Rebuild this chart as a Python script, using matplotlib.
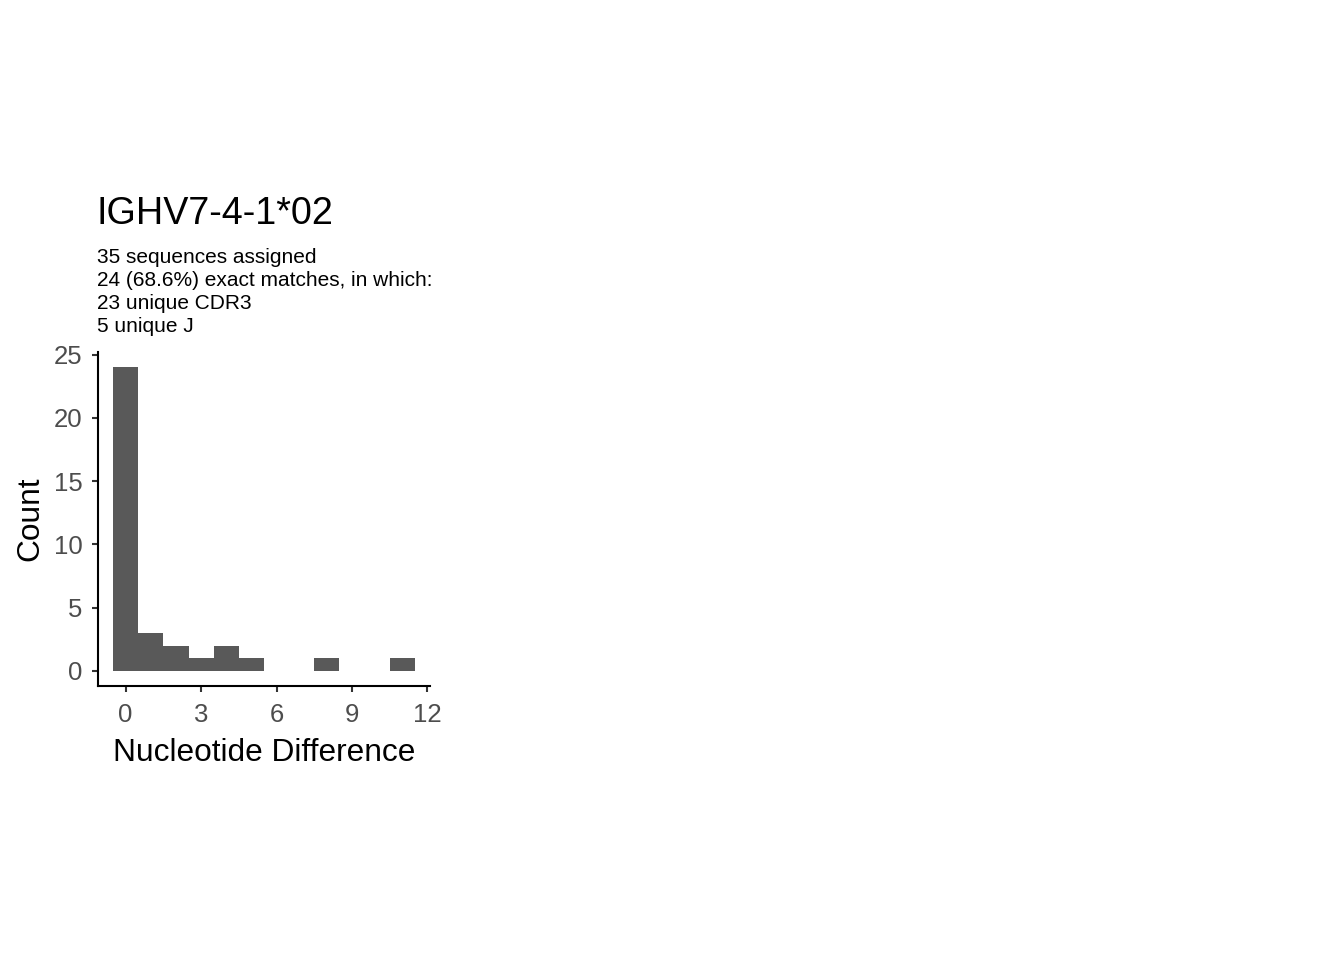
import matplotlib
matplotlib.use('Agg')
import matplotlib.pyplot as plt
import numpy as np

plt.rcParams['font.family'] = ['Liberation Sans', 'DejaVu Sans']

# histogram of nucleotide differences (one bin per integer)
diffs = [0, 1, 2, 3, 4, 5, 6, 7, 8, 9, 10, 11]
counts = [24, 3, 2, 1, 2, 1, 0, 0, 1, 0, 0, 1]

title = 'IGHV7-4-1*02'
subtitle_lines = ['35 sequences assigned',
                  '24 (68.6%) exact matches, in which:',
                  '23 unique CDR3',
                  '5 unique J']
x_ticks = [0, 3, 6, 9, 12]
y_ticks = [0, 5, 10, 15, 20, 25]

W, H = 1344, 960
fig = plt.figure(figsize=(W / 100, H / 100), dpi=100)
ax = fig.add_axes([98 / W, 1 - 686 / H, (430 - 98) / W, (686 - 352) / H])

ax.bar(diffs, counts, width=1.0, color='#595959', linewidth=0)

lo, hi = min(diffs) - 0.5, max(diffs) + 0.5
pad = (hi - lo) * 0.05
ax.set_xlim(lo - pad, hi + pad)
ymax = max(counts)
ax.set_ylim(-ymax * 0.05, ymax * 1.05)

ax.set_xticks(x_ticks)
ax.set_yticks(y_ticks)
for s in ['top', 'right']:
    ax.spines[s].set_visible(False)
for s in ['left', 'bottom']:
    ax.spines[s].set_linewidth(1.5)
    ax.spines[s].set_color('black')
ax.tick_params(axis='both', length=4, width=1.5, color='#333333',
               labelsize=18.5, labelcolor='#4D4D4D')
ax.tick_params(axis='x', pad=8)
ax.tick_params(axis='y', pad=7)

ax.set_xlabel('Nucleotide Difference', fontsize=22.8, color='black', labelpad=8)
ax.set_ylabel('Count', fontsize=22.8, color='black', labelpad=6)

fig.text(97 / W, 1 - 224 / H, title, fontsize=27.2, va='baseline', ha='left')
for i, line in enumerate(subtitle_lines):
    fig.text(97 / W, 1 - (263 + 23 * i) / H, line, fontsize=15,
             va='baseline', ha='left')

fig.savefig('out.png', dpi=100, facecolor='white')
